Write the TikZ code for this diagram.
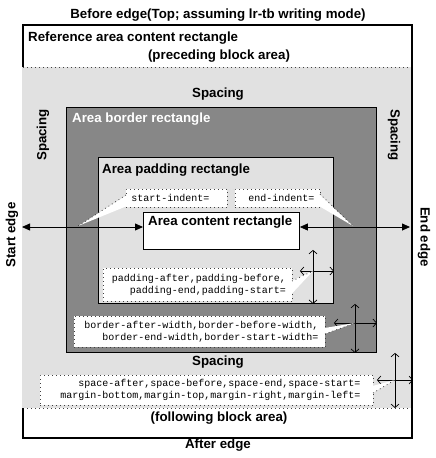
\documentclass[tikz,border=0pt]{standalone}
\usepackage{fontspec}
\setmainfont{Liberation Sans}
\newfontfamily\monof{Liberation Mono}
\usetikzlibrary{arrows.meta,calc}
\definecolor{lgray}{HTML}{E1E1E1}
\definecolor{dgray}{HTML}{878787}
\tikzset{
  lbl/.style={font=\fontsize{13.3}{15}\selectfont\bfseries, inner sep=0pt},
  rect/.style={draw=black, line width=0.9pt, inner sep=0pt, anchor=north west},
  dotline/.style={draw=black!75, line width=0.8pt, dash pattern=on 0.8pt off 3.2pt},
  mbox/.style={fill=white, dotline, font=\fontsize{10}{12}\selectfont\monof, anchor=north west, inner ysep=0pt},
  tail/.style={fill=white, draw=none},
  bigarrow/.style={line width=0.8pt, {Triangle[length=8pt,width=7pt]}-{Triangle[length=8pt,width=7pt]}},
  crossarrow/.style={line width=0.7pt, {Straight Barb[length=3.5pt,width=8pt]}-{Straight Barb[length=3.5pt,width=8pt]}}
}
\begin{document}
\begin{tikzpicture}[x=1pt,y=-1pt]
\useasboundingbox[fill=white] (0,0) rectangle (436,458);
% outer reference area
\node[rect, line width=2pt, minimum width=389pt, minimum height=413pt, fill=white] (outer) at (22,24) {};
% spacing zone
\fill[lgray] (22,67) rectangle (410.5,408);
\draw[dotline] (23,67) -- (410,67);
\draw[dotline] (27,408) -- (410,408);
% border, padding, content rectangles
\node[rect, fill=dgray, minimum width=310pt, minimum height=245pt] (border) at (66,107) {};
\node[rect, fill=lgray, minimum width=235pt, minimum height=146pt] (padding) at (98,157) {};
\node[rect, fill=white, minimum width=156pt, minimum height=37pt] (content) at (143,212) {};
% labels
\node[lbl] (before) at (218,15) {Before edge(Top; assuming lr-tb writing mode)};
\node[lbl, anchor=west] (refl) at (28,38) {Reference area content rectangle};
\node[lbl] (prec) at (219,56) {(preceding block area)};
\node[lbl] (sptop) at (218,94) {Spacing};
\node[lbl, rotate=90] (spleft) at (43,135) {Spacing};
\node[lbl, rotate=-90] (spright) at (394,135) {Spacing};
\node[lbl, anchor=west, white] (borderl) at (72,119) {Area border rectangle};
\node[lbl, anchor=west] (paddingl) at (102,170) {Area padding rectangle};
\node[lbl, anchor=west] (contentl) at (148,222) {Area content rectangle};
\node[lbl, rotate=90] (startl) at (12,235) {Start edge};
\node[lbl, rotate=-90] (endl) at (424,237) {End edge};
\node[lbl] (spbot) at (218,362) {Spacing};
\node[lbl] (foll) at (219,418) {(following block area)};
\node[lbl] (after) at (218,445) {After edge};
% edge arrows
\coordinate (sedge) at (22,227);
\coordinate (eedge) at (410,227);
\draw[bigarrow] (sedge) -- (sedge -| content.west);
\draw[bigarrow] (sedge -| content.east) -- (eedge);
% cross arrows
\coordinate (pc) at (313,271);
\coordinate (bc) at (355,323);
\coordinate (sc) at (395,380);
\draw[crossarrow] (pc |- content.south) -- (pc |- padding.south);
\draw[crossarrow] (pc -| content.east) -- (pc -| padding.east);
\draw[crossarrow] (bc |- padding.south) -- (bc |- border.south);
\draw[crossarrow] (bc -| padding.east) -- (bc -| border.east);
\draw[crossarrow] (sc |- border.south) -- (sc |- 0,408);
\draw[crossarrow] (sc -| border.east) -- (sc -| outer.east);
% callout boxes
\node[mbox, minimum width=101pt, minimum height=18pt, text width=91pt, inner xsep=5pt, align=left] (si) at (126,189) {\mbox{start-indent=}};
\node[mbox, minimum width=85pt, minimum height=18pt, text width=73pt, inner xsep=6pt, align=right] (ei) at (235,189) {\mbox{end-indent=}};
\node[mbox, minimum width=189pt, minimum height=33pt, text width=176pt, inner xsep=6.5pt, align=right] (pb) at (103,268) {\mbox{padding-after,padding-before,}\\\mbox{padding-end,padding-start=}};
\node[mbox, minimum width=251pt, minimum height=31pt, text width=237pt, inner xsep=7pt, align=right] (bb) at (74,316) {\mbox{border-after-width,border-before-width,}\\\mbox{border-end-width,border-start-width=}};
\node[mbox, minimum width=333pt, minimum height=30pt, text width=307pt, inner xsep=13pt, align=right] (sb) at (40,375) {\mbox{space-after,space-before,space-end,space-start=}\\\mbox{margin-bottom,margin-top,margin-right,margin-left=}};
% callout tails
\coordinate (sit) at (78,226);
\coordinate (eit) at (353,226);
\fill[tail] (127,195) -- (sit) -- (127,206) -- cycle;
\draw[dotline] (126,195) -- (sit);
\fill[tail] (319,194) -- (eit) -- (319,206) -- cycle;
\draw[dotline] (320,194) -- (eit);
\fill[tail] (291.5,281) -- (pc) -- (291.5,294) -- cycle;
\draw[dotline] (292,281) -- (pc);
\fill[tail] (324.5,328) -- (bc) -- (324.5,334) -- cycle;
\draw[dotline] (325,334) -- (bc);
\fill[tail] (372.5,386) -- (sc) -- (372.5,393) -- cycle;
\draw[dotline] (373,393) -- (sc);
\end{tikzpicture}
\end{document}
